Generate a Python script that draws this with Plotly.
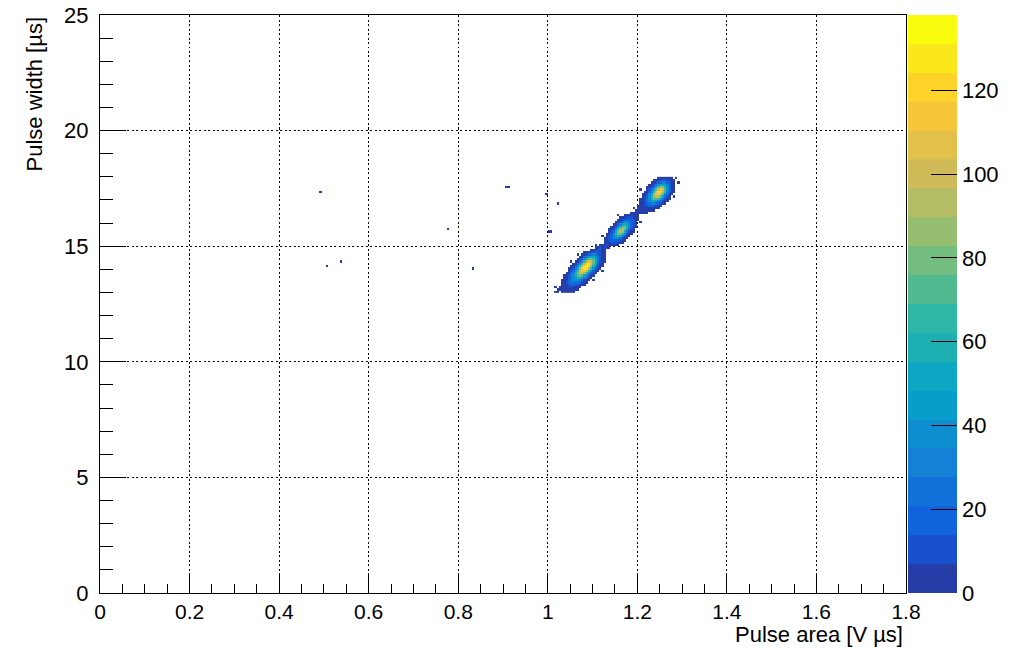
import numpy as np
import plotly.graph_objects as go

# ---- histogram binning -------------------------------------------------
X_MIN, X_BIN, NX = 0.480, 0.005, 164      # pulse area bins [V us]
Y_MIN, Y_BIN, NY = 13.0, 0.1, 50          # pulse width bins [us]
Z_MAX = 138                               # top of the colour axis

# ---- bin contents -------------------------------------------------------
# Dense region starts at pulse area 1.000 V us; each row is one pulse-width
# bin (row 0 = 13.0-13.1 us) given as (first area bin, codes). Every code
# character stands for the count listed at the same position in CODE_COUNTS,
# '.' is an empty bin.
CORE_X0 = 1.000
CODE_CHARS = "123456789abcdefghijk"
CODE_COUNTS = [3, 10, 17, 24, 31, 38, 45, 52, 59, 66,
               73, 80, 87, 94, 101, 108, 115, 122, 129, 136]

CORE_ROWS = {
    0: [(3, "11.111111")],
    1: [(4, "1111111111")],
    2: [(3, "1.1111121111")],
    3: [(6, "11123322111")],
    4: [(6, "112344443211")],
    5: [(6, "1113466654211.1")],
    6: [(7, "1124689975311")],
    7: [(7, "112469bcb86311")],
    8: [(8, "11359cffda6321")],
    9: [(9, "1247bfhhea6311.1")],
    10: [(9, "11258dhjifa6311")],
    11: [(10, "1136aeikie95211")],
    12: [(11, "1136afijgb7311")],
    13: [(10, "1.1136aegfc84211")],
    14: [(13, "12369bca85211")],
    15: [(14, "113578864311")],
    16: [(13, "1.11234543211")],
    17: [(16, "1112232211")],
    18: [(19, "1112211")],
    19: [(21, "1121211")],
    20: [(21, "1.111211111")],
    21: [(25, "111222111")],
    22: [(25, "1123333211")],
    23: [(25, "11235664211")],
    24: [(24, "1.12368985311")],
    25: [(26, "11369cc96311")],
    26: [(0, "11"), (27, "1248ced95211")],
    27: [(27, "11259dec8421")],
    28: [(28, "11369cc96311")],
    29: [(29, "11358986321")],
    30: [(30, "1124665321.1")],
    31: [(31, "1123333211")],
    32: [(32, "111222111")],
    33: [(31, "1..1111111")],
    34: [(37, "11111111")],
    35: [(39, "111111111")],
    36: [(38, "1.1111111111")],
    37: [(40, "11122332211")],
    38: [(4, "1"), (41, "112345543211")],
    39: [(41, "1124678754211")],
    40: [(41, "112469bba74211")],
    41: [(42, "1136adfeb7421.1")],
    42: [(42, "11258dghfb7411")],
    43: [(43, "1136afiiea5211")],
    44: [(41, "1..1247bfhfb6311")],
    45: [(44, "11247bdca6311")],
    46: [(45, "112468875311")],
    47: [(46, "11234553211.1")],
    48: [(47, "1112222111")],
    49: [(49, "1111111"), (57, "1")],
}

# isolated single entries
ISO_X = [0.491, 0.508, 0.535, 0.778, 0.832, 0.909, 0.914, 0.998]
ISO_Y = [17.30, 14.16, 14.36, 15.79, 14.03, 17.57, 17.57, 17.29]
ISO_N = [1, 1, 1, 1, 1, 1, 1, 1]

# ---- fill the 2D histogram ---------------------------------------------
z = np.full((NY, NX), np.nan)
col_offset = int(round((CORE_X0 - X_MIN) / X_BIN))
for row, segments in CORE_ROWS.items():
    for first, codes in segments:
        for k, ch in enumerate(codes):
            if ch == ".":
                continue
            z[row, col_offset + first + k] = CODE_COUNTS[CODE_CHARS.index(ch)]

for x, y, n in zip(ISO_X, ISO_Y, ISO_N):
    ix = int((x - X_MIN) / X_BIN + 1e-9)
    iy = int((y - Y_MIN) / Y_BIN + 1e-9)
    z[iy, ix] = (0 if np.isnan(z[iy, ix]) else z[iy, ix]) + n

x_centers = X_MIN + (np.arange(NX) + 0.5) * X_BIN
y_centers = Y_MIN + (np.arange(NY) + 0.5) * Y_BIN
z_list = [[None if np.isnan(v) else float(v) for v in r] for r in z]

# ---- ROOT "bird" palette, 20 contour bands ------------------------------
stops = [0.0, 0.125, 0.25, 0.375, 0.5, 0.625, 0.75, 0.875, 1.0]
red = [0.2082, 0.0592, 0.0780, 0.0232, 0.1802, 0.5301, 0.8186, 0.9956, 0.9764]
green = [0.1664, 0.3599, 0.5041, 0.6419, 0.7178, 0.7492, 0.7328, 0.7862, 0.9832]
blue = [0.5293, 0.8684, 0.8385, 0.7914, 0.6425, 0.4662, 0.3499, 0.1968, 0.0539]
N_BANDS = 20
N_COLORS = 255

colorscale = []
for k in range(N_BANDS):
    idx = int((k + 0.99) * N_COLORS / N_BANDS)
    f = min(idx, N_COLORS - 1) / (N_COLORS - 1)
    r = np.interp(f, stops, red)
    g = np.interp(f, stops, green)
    b = np.interp(f, stops, blue)
    c = "rgb(%d,%d,%d)" % (round(r * 255), round(g * 255), round(b * 255))
    colorscale.append([k / N_BANDS, c])
    colorscale.append([(k + 1) / N_BANDS, c])

# ---- figure -------------------------------------------------------------
W, H = 1025, 648
ML, MR, MT, MB = 100, 119, 15, 55
PW, PH = W - ML - MR, H - MT - MB
FONT = "Liberation Sans, Arial, Helvetica, sans-serif"
X_LABEL_SIZE = 21
Y_LABEL_SIZE = 22
TITLE_SIZE = 22
CB_GAP, CB_THICK = 1.5, 49

fig = go.Figure()
fig.add_trace(go.Heatmap(
    x=x_centers, y=y_centers, z=z_list,
    zmin=0, zmax=Z_MAX,
    colorscale=colorscale,
    hoverongaps=False,
    colorbar=dict(
        x=1 + CB_GAP / PW, xanchor="left", xpad=0,
        y=0.5, yanchor="middle", ypad=0,
        len=1, lenmode="fraction",
        thickness=CB_THICK, thicknessmode="pixels",
        outlinewidth=0,
        ticks="inside", ticklen=26, tickwidth=1, tickcolor="black",
        tick0=0, dtick=20,
        tickfont=dict(family=FONT, size=Y_LABEL_SIZE, color="black"),
    ),
))

grid_dash = "2px,2.5px"
axis_common = dict(
    showline=True, linecolor="black", linewidth=1, mirror=True,
    ticks="inside", tickwidth=1, tickcolor="black",
    showgrid=True, gridcolor="black", gridwidth=1, griddash=grid_dash,
    zeroline=False,
)

fig.update_xaxes(
    range=[0, 1.8], tick0=0, dtick=0.2, ticklen=18,
    tickfont=dict(family=FONT, size=X_LABEL_SIZE, color="black"),
    minor=dict(ticks="inside", ticklen=9, dtick=0.05, tickcolor="black",
               tickwidth=1, showgrid=False),
    **axis_common,
)
fig.update_yaxes(
    range=[0, 25], tick0=0, dtick=5, ticklen=26, ticklabelstandoff=6,
    tickfont=dict(family=FONT, size=Y_LABEL_SIZE, color="black"),
    minor=dict(ticks="inside", ticklen=13, dtick=1, tickcolor="black",
               tickwidth=1, showgrid=False),
    **axis_common,
)

# right edge of the colour bar
cb_right = 1 + (CB_GAP + CB_THICK) / PW
fig.add_shape(type="line", xref="paper", yref="paper",
              x0=cb_right, x1=cb_right, y0=0, y1=1,
              line=dict(color="black", width=1))

fig.add_annotation(
    text="Pulse area [V \u00b5s]", xref="paper", yref="paper",
    x=1 - 1 / PW, y=-27 / PH, xanchor="right", yanchor="top",
    showarrow=False, font=dict(family=FONT, size=TITLE_SIZE, color="black"),
)
fig.add_annotation(
    text="Pulse width [\u00b5s]", xref="paper", yref="paper",
    x=-66 / PW, y=1, xanchor="center", yanchor="top", textangle=-90,
    showarrow=False, font=dict(family=FONT, size=TITLE_SIZE, color="black"),
)

fig.update_layout(
    width=W, height=H,
    margin=dict(l=ML, r=MR, t=MT, b=MB, autoexpand=False),
    paper_bgcolor="white", plot_bgcolor="white",
    showlegend=False,
)

fig.write_html("out.html")
